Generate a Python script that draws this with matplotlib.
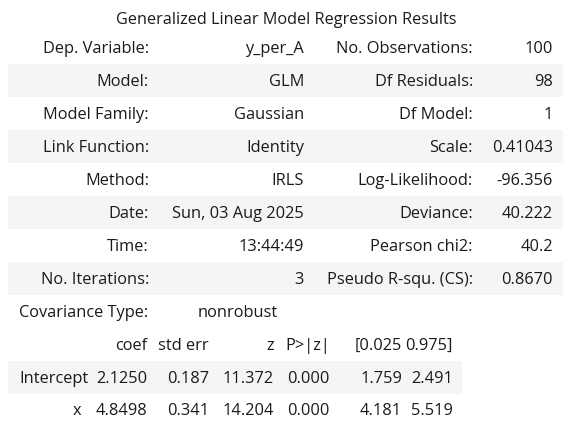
import matplotlib.pyplot as plt
from matplotlib.patches import Rectangle

# Summary table contents
title = 'Generalized Linear Model Regression Results'
left_labels = ['Dep. Variable:', 'Model:', 'Model Family:', 'Link Function:',
               'Method:', 'Date:', 'Time:', 'No. Iterations:']
left_values = ['y_per_A', 'GLM', 'Gaussian', 'Identity', 'IRLS',
               'Sun, 03 Aug 2025', '13:44:49', '3']
right_labels = ['No. Observations:', 'Df Residuals:', 'Df Model:', 'Scale:',
                'Log-Likelihood:', 'Deviance:', 'Pearson chi2:', 'Pseudo R-squ. (CS):']
right_values = ['100', '98', '1', '0.41043', '-96.356', '40.222', '40.2', '0.8670']
cov_label = 'Covariance Type:'
cov_value = 'nonrobust'

coef_header = ['coef', 'std err', 'z', 'P>|z|', '[0.025', '0.975]']
coef_names = ['Intercept', 'x']
coef_rows = [['2.1250', '0.187', '11.372', '0.000', '1.759', '2.491'],
             ['4.8498', '0.341', '14.204', '0.000', '4.181', '5.519']]

W, H = 571, 434
fig = plt.figure(figsize=(W / 100, H / 100), dpi=100)
ax = fig.add_axes([0, 0, 1, 1])
ax.set_xlim(0, W)
ax.set_ylim(H, 0)
ax.axis('off')

fam = 'Open Sans'
fs = 11.8
col = '#1a1a1a'
stripe = '#f5f5f5'
dy = 2

ax.text(286, 18 + dy, title, ha='center', va='center', fontsize=11.7, family=fam, color=col)

# first table
row_h = 33
y0 = 47
col_x = [149, 304, 473, 553]
for i in range(len(left_labels)):
    y = y0 + i * row_h
    if i % 2 == 1:
        ax.add_patch(Rectangle((8, y - row_h / 2), 555, row_h, color=stripe, lw=0, zorder=0))
    ax.text(col_x[0], y + dy, left_labels[i], ha='right', va='center', fontsize=fs, family=fam, color=col)
    ax.text(col_x[1], y + dy, left_values[i], ha='right', va='center', fontsize=fs, family=fam, color=col)
    ax.text(col_x[2], y + dy, right_labels[i], ha='right', va='center', fontsize=fs, family=fam, color=col)
    ax.text(col_x[3], y + dy, right_values[i], ha='right', va='center', fontsize=fs, family=fam, color=col)

# covariance row
ax.text(19, 311 + dy, cov_label, ha='left', va='center', fontsize=fs, family=fam, color=col)
ax.text(278, 311 + dy, cov_value, ha='right', va='center', fontsize=fs, family=fam, color=col)

# coefficient table
hdr_x = [147, 209, 274, 330, 402, 453]
ax_y = [344, 377, 409]
for j, h in enumerate(coef_header):
    ax.text(hdr_x[j], ax_y[0] + dy, h, ha='right', va='center', fontsize=fs, family=fam, color=col)
for i, name in enumerate(coef_names):
    y = ax_y[i + 1]
    if i % 2 == 0:
        ax.add_patch(Rectangle((8, y - row_h / 2), 454, row_h, color=stripe, lw=0, zorder=0))
    if i == 0:
        ax.text(19, y + dy, name, ha='left', va='center', fontsize=fs, family=fam, color=col)
    else:
        ax.text(81, y + dy, name, ha='right', va='center', fontsize=fs, family=fam, color=col)
    for j, v in enumerate(coef_rows[i]):
        ax.text(hdr_x[j], y + dy, v, ha='right', va='center', fontsize=fs, family=fam, color=col)

fig.savefig('out.png', dpi=100)
